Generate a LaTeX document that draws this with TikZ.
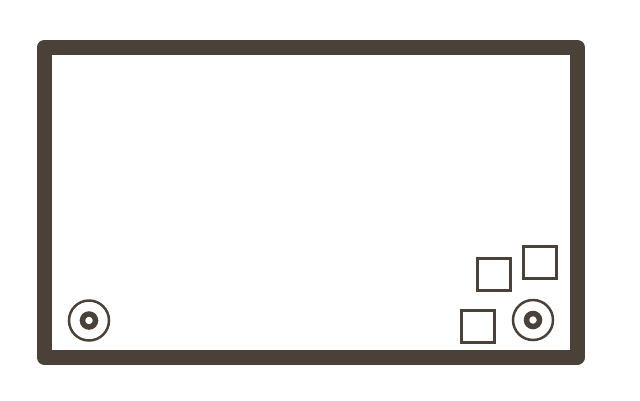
\documentclass[tikz,border=0pt]{standalone}
\definecolor{frame}{HTML}{4A4238}
\tikzset{
  rim/.style={draw=frame, line width=2.5pt},
  hub/.style={draw=frame, line width=5.5pt},
  pad/.style={draw=frame, line width=3pt}
}
\begin{document}
\begin{tikzpicture}[x=1pt, y=-1pt]
  \useasboundingbox (0,0) rectangle (640,400);
  \draw[frame, line width=15pt, line join=round] (44,47.5) rectangle (577.5,357);
  
  \coordinate (left) at (89,320.5);
  \coordinate (right) at (533,320);
  \draw[rim] (left) circle (20);
  \draw[hub] (left) circle (6.5);
  \draw[rim] (right) circle (20);
  \draw[hub] (right) circle (6.5);
  
  \draw[pad] (477.5,258) rectangle (510,290.5);
  \draw[pad] (523,246.5) rectangle (556,278.5);
  \draw[pad] (461.5,310.5) rectangle (494.5,342.5);
\end{tikzpicture}
\end{document}
